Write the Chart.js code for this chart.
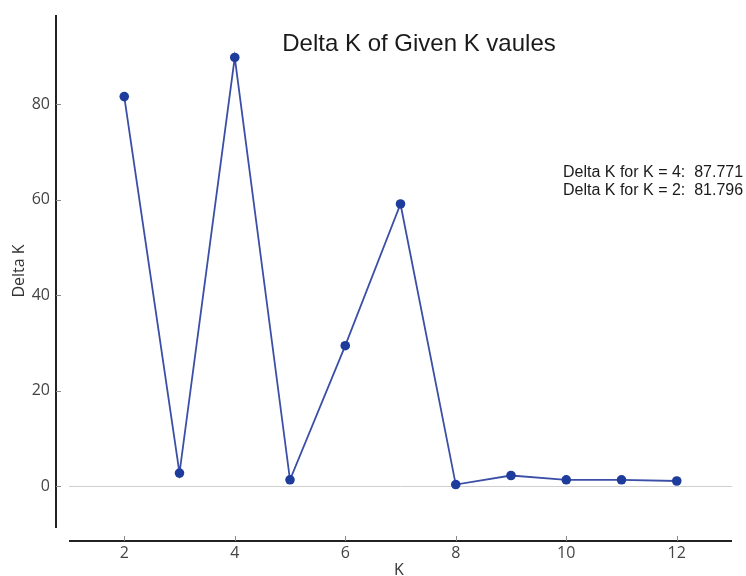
<!DOCTYPE html>
<html>
<head>
<meta charset="utf-8">
<title>Delta K of Given K vaules</title>
<script src="https://cdn.jsdelivr.net/npm/chart.js@4.4.1/dist/chart.umd.min.js"></script>
<style>
  html,body{margin:0;padding:0;background:#fff;}
  #wrap{width:746px;height:576px;}
</style>
</head>
<body>
<div id="wrap"><canvas id="chart" width="746" height="576"></canvas></div>
<script>
/* ====== Datos ====== */
const kValues = [2, 3, 4, 5, 6, 7, 8, 9, 10, 11, 12];
const deltaK  = [81.6, 2.7, 89.8, 1.3, 29.4, 59.1, 0.3, 2.2, 1.3, 1.3, 1.05];
const xTicks  = [2, 4, 6, 8, 10, 12];
const yTicks  = [0, 20, 40, 60, 80];
const titleText = "Delta K of Given K vaules";
const xLabel = "K";
const yLabel = "Delta K";
const notes = ["Delta K for K = 4:  87.771", "Delta K for K = 2:  81.796"];

(function(){
  const tickFont = "16px 'Open Sans', sans-serif";
  const helv = "'Liberation Sans', Arial, Helvetica, sans-serif";

  // ejes tipo matplotlib: spines separados del área del gráfico
  const spines = {
    id: "spines",
    beforeDatasetsDraw(chart){
      const {ctx, chartArea:a, scales:{y}} = chart;
      const y0 = Math.round(y.getPixelForValue(0)) + 0.5;
      ctx.save();
      ctx.strokeStyle = "#cfcfcf"; ctx.lineWidth = 1;
      ctx.beginPath(); ctx.moveTo(a.left, y0); ctx.lineTo(a.right, y0); ctx.stroke();
      ctx.restore();
    },
    afterDraw(chart){
      const {ctx, chartArea:a, scales:{x, y}} = chart;
      const ySp = a.left - 13, xSp = a.bottom + 13;
      ctx.save();
      ctx.strokeStyle = "#222"; ctx.lineWidth = 2;
      ctx.beginPath(); ctx.moveTo(ySp, a.top); ctx.lineTo(ySp, a.bottom); ctx.stroke();
      ctx.beginPath(); ctx.moveTo(a.left, xSp); ctx.lineTo(a.right, xSp); ctx.stroke();
      // marcas
      ctx.strokeStyle = "#888"; ctx.lineWidth = 1;
      yTicks.forEach(v=>{
        const p = Math.round(y.getPixelForValue(v)) + 0.5;
        ctx.beginPath(); ctx.moveTo(ySp, p); ctx.lineTo(ySp + 5, p); ctx.stroke();
      });
      xTicks.forEach(v=>{
        const p = Math.round(x.getPixelForValue(v)) + 0.5;
        ctx.beginPath(); ctx.moveTo(p, xSp); ctx.lineTo(p, xSp - 5); ctx.stroke();
      });
      // título y etiquetas
      ctx.fillStyle = "#1a1a1a";
      ctx.font = "24px " + helv;
      ctx.textAlign = "center"; ctx.textBaseline = "alphabetic";
      ctx.fillText(titleText, 419, 51);
      ctx.font = "16px " + helv;
      ctx.textAlign = "left";
      notes.forEach((t,i)=>ctx.fillText(t, 563, 177 + i*17.7));
      ctx.fillStyle = "#333";
      ctx.font = tickFont;
      ctx.textAlign = "center";
      ctx.fillText(xLabel, 399, 575);
      ctx.translate(19, 271); ctx.rotate(-Math.PI/2);
      ctx.textBaseline = "middle";
      ctx.fillText(yLabel, 0, 0);
      ctx.restore();
    }
  };

  new Chart(document.getElementById("chart"), {
    type: "line",
    data: {
      datasets: [{
        data: kValues.map((k,i)=>({x:k, y:deltaK[i]})),
        borderColor: "#3b4fa6",
        borderWidth: 1.8,
        pointRadius: 4.8,
        pointBackgroundColor: "#1d3c9c",
        pointBorderColor: "#1d3c9c",
        pointBorderWidth: 0,
        tension: 0,
        clip: false
      }]
    },
    options: {
      responsive: false,
      animation: false,
      layout: { padding: { left: 0, right: 14, top: 15, bottom: 0 } },
      plugins: { legend: { display: false }, tooltip: { enabled: false } },
      scales: {
        x: {
          type: "linear", min: 1, max: 13,
          grid: { display: false, drawTicks: false },
          border: { display: false },
          afterBuildTicks: s=>{ s.ticks = xTicks.map(v=>({value:v})); },
          afterFit: s=>{ s.height = 48; s.paddingLeft = 0; s.paddingRight = 0; },
          ticks: { color: "#444", font: { family: "'Open Sans', sans-serif", size: 16 }, padding: 16, maxRotation: 0 }
        },
        y: {
          type: "linear", min: -8.8, max: 98.7,
          grid: { display: false, drawTicks: false },
          border: { display: false },
          afterBuildTicks: s=>{ s.ticks = yTicks.map(v=>({value:v})); },
          afterFit: s=>{ s.width = 69; s.paddingTop = 0; s.paddingBottom = 0; },
          ticks: { color: "#444", font: { family: "'Open Sans', sans-serif", size: 16 }, padding: 19 }
        }
      }
    },
    plugins: [spines]
  });
})();
</script>
</body>
</html>
